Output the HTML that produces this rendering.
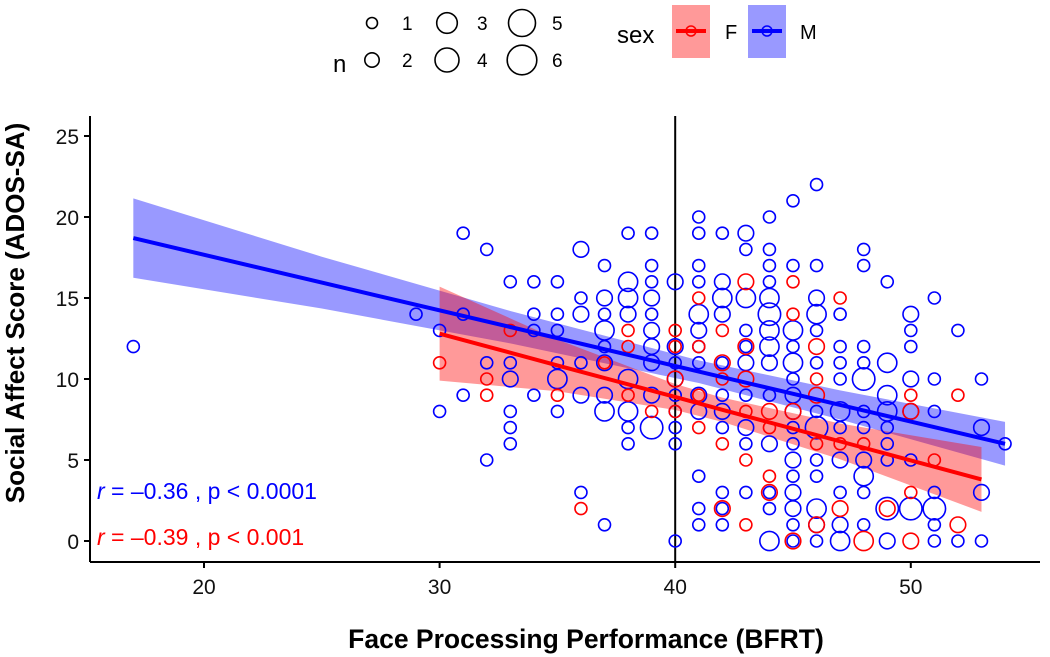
<!DOCTYPE html>
<html><head><meta charset="utf-8"><style>
body{margin:0;background:#fff;}
svg{display:block;font-family:"Liberation Sans",Arial,sans-serif;}
</style></head><body>
<svg id="chart" width="1050" height="657" viewBox="0 0 1050 657">
<g id="legend">
 <text x="333" y="72" font-size="24">n</text>
 <g id="sizeLegend"></g>
 <text x="617" y="43" font-size="24">sex</text>
 <g>
  <rect x="672" y="5" width="38" height="53" fill="#ff9999"/>
  <line x1="676" y1="31" x2="706" y2="31" stroke="#ff0000" stroke-width="4"/>
  <circle cx="691" cy="31" r="5" fill="none" stroke="#ff0000" stroke-width="1.5"/>
  <text x="725" y="39" font-size="20">F</text>
 </g>
 <g>
  <rect x="748" y="5" width="38" height="53" fill="#9999ff"/>
  <line x1="752" y1="31" x2="782" y2="31" stroke="#0000ff" stroke-width="4"/>
  <circle cx="767" cy="31" r="5" fill="none" stroke="#0000ff" stroke-width="1.5"/>
  <text x="800" y="39" font-size="20">M</text>
 </g>
</g>
<g id="bands"></g>
<line id="vline" stroke="#000" stroke-width="2"/>
<g id="points"></g>
<g id="lines"></g>
<g id="axes"></g>
<text x="97" y="499" font-size="23" fill="#0000ff"><tspan font-style="italic">r</tspan> = –0.36 , p &lt; 0.0001</text>
<text x="97" y="545" font-size="23" fill="#ff0000"><tspan font-style="italic">r</tspan> = –0.39 , p &lt; 0.001</text>
<text x="586" y="648" font-size="26.5" font-weight="bold" text-anchor="middle">Face Processing Performance (BFRT)</text>
<text transform="translate(24,313) rotate(-90)" font-size="26" font-weight="bold" text-anchor="middle">Social Affect Score (ADOS-SA)</text>
</svg>
<script>
const xTicks=[20,30,40,50];
const yTicks=[0,5,10,15,20,25];
const legendN=[1,2,3,4,5,6];
const maleX=[17,29,30,30,31,31,31,32,32,32,33,33,33,33,33,33,34,34,34,34,35,35,35,35,35,35,36,36,36,36,36,36,37,37,37,37,37,37,37,37,37,38,38,38,38,38,38,38,38,39,39,39,39,39,39,39,39,39,39,40,40,40,40,40,40,40,40,40,41,41,41,41,41,41,41,41,41,41,41,41,41,42,42,42,42,42,42,42,42,42,42,42,43,43,43,43,43,43,43,43,43,43,44,44,44,44,44,44,44,44,44,44,44,44,44,44,45,45,45,45,45,45,45,45,45,45,45,45,45,45,45,45,46,46,46,46,46,46,46,46,46,46,46,46,46,47,47,47,47,47,47,47,47,47,47,48,48,48,48,48,48,48,48,48,48,48,49,49,49,49,49,49,49,49,49,50,50,50,50,50,50,50,51,51,51,51,51,51,51,52,52,53,53,53,53,54];
const maleY=[12,14,13,8,19,14,9,18,11,5,16,11,10,8,7,6,16,14,13,9,16,14,13,11,10,8,18,15,14,11,9,3,17,15,14,13,12,11,9,8,1,19,16,15,14,10,8,7,6,19,17,16,15,14,13,12,11,9,7,16,12,11,10,9,8,7,6,0,20,19,17,16,14,13,12,11,9,8,4,2,1,19,16,15,14,11,9,8,7,3,2,1,19,18,15,13,12,11,9,7,6,3,20,18,17,16,15,14,13,12,11,9,6,3,2,0,21,17,13,12,11,10,9,8,7,6,5,4,3,2,1,0,22,17,15,14,13,11,8,7,5,4,2,1,0,14,12,11,10,8,7,5,3,1,0,18,17,12,11,10,8,7,5,4,3,1,16,11,9,8,7,6,5,2,0,14,13,12,10,8,5,2,15,10,8,3,2,1,0,13,0,10,7,3,0,6];
const maleN=[1,1,1,1,1,1,1,1,1,1,1,1,2,1,1,1,1,1,1,1,1,1,1,1,3,1,2,1,2,1,2,1,1,2,1,3,1,2,2,3,1,1,3,3,2,3,3,1,1,1,1,1,2,1,2,2,2,2,4,2,2,1,2,1,1,1,1,1,1,1,1,1,3,2,1,1,2,2,1,1,1,1,2,3,2,1,1,2,1,1,1,1,2,1,3,1,1,2,1,2,1,1,1,1,1,1,3,4,3,3,2,1,2,1,1,3,1,1,3,1,3,1,2,2,1,1,2,1,2,2,1,1,1,1,2,3,1,1,1,4,1,1,3,2,1,1,1,1,1,3,1,2,1,2,3,1,1,1,1,4,1,1,2,3,1,1,1,3,3,3,1,1,1,4,2,2,1,1,2,2,1,4,1,1,1,1,4,1,1,1,1,1,2,2,1,1];
const femX=[30,32,32,33,35,36,37,38,38,38,39,40,40,40,40,41,41,41,41,42,42,42,42,42,43,43,43,43,43,43,44,44,44,44,45,45,45,45,46,46,46,46,46,47,47,47,48,48,49,50,50,50,50,51,52,52];
const femY=[11,10,9,13,9,2,11,13,12,9,8,13,12,10,8,15,12,9,7,13,11,10,6,2,16,12,10,8,5,1,8,7,3,4,16,14,8,0,12,10,9,6,1,15,6,2,6,0,2,9,8,3,0,5,9,1];
const femN=[1,1,1,1,1,1,1,1,1,1,1,1,1,2,1,1,1,1,1,1,2,1,1,2,2,2,2,1,1,1,2,1,2,1,1,1,2,2,2,1,2,1,2,1,1,2,1,3,2,1,2,1,2,1,1,2];
const maleFitX=[17,25,33,41,47,54];
const maleFit=[18.7,15.95,13.21,10.46,8.4,6.0];
const maleUpper=[21.15,17.55,14.2,11.15,9.3,7.35];
const maleLower=[16.25,14.35,12.2,9.75,7.5,4.65];
const femFitX=[30,35,40,42,47,53];
const femFit=[12.8,10.84,8.89,8.1,6.15,3.8];
const femUpper=[15.7,12.44,9.69,8.85,7.25,5.8];
const femLower=[9.9,9.24,8.09,7.35,5.05,1.8];

const NS='http://www.w3.org/2000/svg';
const X0=90,X1=1040,Y0=116,Y1=562;
const sx=v=>204+(v-20)*23.56;
const sy=v=>541-v*16.2;
const sizeR=[6,7.8,9.6,11.2,12.5,13.8];
const rad=n=>sizeR[Math.min(n,6)-1];
function mk(tag,attrs,parent){const e=document.createElementNS(NS,tag);for(const k in attrs)e.setAttribute(k,attrs[k]);parent.appendChild(e);return e;}

const bands=document.getElementById('bands');
function band(xs,up,lo,fill,name){
  let d='M'+xs.map((x,i)=>sx(x)+','+sy(up[i])).join('L');
  d+='L'+xs.slice().reverse().map((x,i)=>sx(x)+','+sy(lo[lo.length-1-i])).join('L')+'Z';
  const p=mk('path',{d:d,fill:fill},bands);
  
  
}
band(maleFitX,maleUpper,maleLower,'rgba(0,0,255,0.4)','male-confidence-band');
band(femFitX,femUpper,femLower,'rgba(255,0,0,0.4)','female-confidence-band');

const vl=document.getElementById('vline');
vl.setAttribute('x1',sx(40));vl.setAttribute('x2',sx(40));vl.setAttribute('y1',Y0);vl.setAttribute('y2',Y1);

const pts=document.getElementById('points');
function drawPts(xs,ys,ns,col,name){
  xs.forEach((x,i)=>{
    const c=mk('circle',{cx:sx(x),cy:sy(ys[i]),r:rad(ns[i]),fill:'none',stroke:col,'stroke-width':1.6},pts);
    
    
  });
}
drawPts(maleX,maleY,maleN,'#0000ff','male-point');
drawPts(femX,femY,femN,'#ff0000','female-point');

const lines=document.getElementById('lines');
function line(xs,ys,col,name){
  const p=mk('polyline',{points:xs.map((x,i)=>sx(x)+','+sy(ys[i])).join(' '),fill:'none',stroke:col,'stroke-width':4},lines);
  
  
}
line(femFitX,femFit,'#ff0000','female-fit-line');
line(maleFitX,maleFit,'#0000ff','male-fit-line');

const ax=document.getElementById('axes');
const xa=mk('line',{x1:X0,x2:X1,y1:Y1,y2:Y1,stroke:'#000','stroke-width':2},ax);


const ya=mk('line',{x1:X0,x2:X0,y1:Y0,y2:Y1,stroke:'#000','stroke-width':2},ax);


xTicks.forEach(t=>{
  mk('line',{x1:sx(t),x2:sx(t),y1:Y1,y2:Y1+6,stroke:'#000','stroke-width':2},ax);
  const tx=mk('text',{x:sx(t),y:594,'font-size':21,'text-anchor':'middle',fill:'#111'},ax);
  tx.textContent=t;
  
  
});
yTicks.forEach(t=>{
  mk('line',{x1:X0-6,x2:X0,y1:sy(t),y2:sy(t),stroke:'#000','stroke-width':2},ax);
  const tx=mk('text',{x:X0-11,y:sy(t)+8,'font-size':21,'text-anchor':'end',fill:'#111'},ax);
  tx.textContent=t;
  
  
});

const sl=document.getElementById('sizeLegend');
const lrad=[5.5,7.2,10.3,12,13.5,14.8];
legendN.forEach((n,i)=>{
  const col=Math.floor(i/2),row=i%2;
  const cx=372+col*75,cy=row?60:23;
  const g=mk('g',{},sl);
  
  
  mk('circle',{cx:cx,cy:cy,r:lrad[i],fill:'none',stroke:'#000','stroke-width':1.6},g);
  const t=mk('text',{x:cx+30,y:cy+7,'font-size':19},g);
  t.textContent=n;
});
</script>
</body></html>
